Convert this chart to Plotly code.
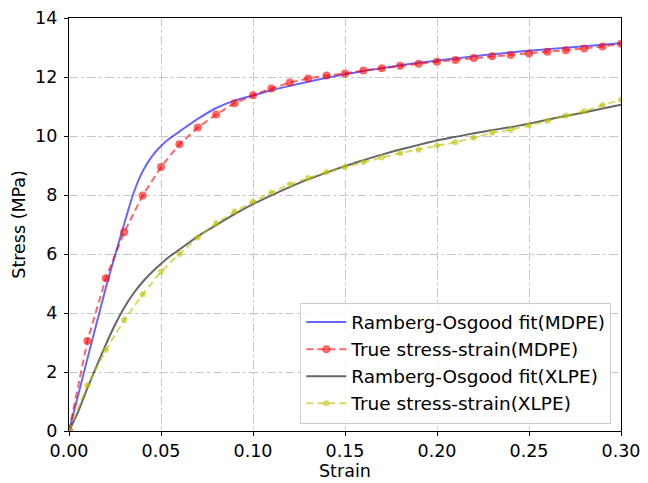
import plotly.graph_objects as go

# Measured points (every 0.01 strain)
strain_pts = [round(i * 0.01, 2) for i in range(31)]
mdpe_true = [0, 3.05, 5.18, 6.74, 7.98, 8.95, 9.72, 10.29, 10.73, 11.11, 11.38,
             11.61, 11.81, 11.95, 12.05, 12.12, 12.22, 12.30, 12.38, 12.45, 12.52,
             12.58, 12.64, 12.70, 12.75, 12.80, 12.86, 12.91, 12.97, 13.03, 13.13]
xlpe_true = [0, 1.55, 2.75, 3.76, 4.63, 5.40, 6.00, 6.56, 7.04, 7.44, 7.77,
             8.08, 8.36, 8.58, 8.78, 8.95, 9.12, 9.27, 9.42, 9.54, 9.68,
             9.79, 9.94, 10.11, 10.21, 10.36, 10.51, 10.69, 10.84, 11.05, 11.23]

# Fit curves
strain_fit = [0, 0.005, 0.01, 0.015, 0.02, 0.025, 0.03, 0.035, 0.04, 0.045, 0.05,
              0.055, 0.06, 0.07, 0.08, 0.09, 0.10, 0.11, 0.12, 0.13, 0.14, 0.15,
              0.16, 0.17, 0.18, 0.19, 0.20, 0.21, 0.22, 0.23, 0.24, 0.25, 0.26,
              0.27, 0.28, 0.29, 0.30]
mdpe_fit = [0, 1.22, 2.45, 3.65, 4.85, 5.95, 7.02, 8.05, 8.8, 9.3, 9.66,
            9.93, 10.15, 10.58, 10.95, 11.2, 11.37, 11.55, 11.7, 11.84, 11.97, 12.09,
            12.2, 12.3, 12.4, 12.48, 12.56, 12.63, 12.7, 12.77, 12.83, 12.89, 12.94,
            12.99, 13.04, 13.09, 13.14]
xlpe_fit = [0, 0.66, 1.45, 2.2, 2.93, 3.6, 4.18, 4.66, 5.05, 5.38, 5.67,
            5.93, 6.15, 6.6, 6.98, 7.35, 7.69, 7.99, 8.27, 8.53, 8.76, 8.98,
            9.18, 9.37, 9.54, 9.7, 9.85, 9.97, 10.09, 10.2, 10.3, 10.42, 10.55,
            10.68, 10.8, 10.93, 11.06]

x_ticks = [0, 0.05, 0.10, 0.15, 0.20, 0.25, 0.30]
y_ticks = [0, 2, 4, 6, 8, 10, 12, 14]

font = "DejaVu Sans"
fs = 17.5
fig = go.Figure()
fig.add_trace(go.Scatter(x=strain_fit, y=mdpe_fit, mode="lines",
                         name="Ramberg-Osgood fit(MDPE)",
                         line=dict(color="rgba(0,0,255,0.6)", width=2, shape="spline", smoothing=0.6)))
fig.add_trace(go.Scatter(x=strain_pts, y=mdpe_true, mode="lines+markers",
                         name="True stress-strain(MDPE)",
                         line=dict(color="rgba(255,0,0,0.6)", width=2, dash="7px,4px"),
                         marker=dict(symbol="circle", size=8, color="rgba(255,0,0,0.6)")))
fig.add_trace(go.Scatter(x=strain_fit, y=xlpe_fit, mode="lines",
                         name="Ramberg-Osgood fit(XLPE)",
                         line=dict(color="rgba(0,0,0,0.6)", width=2, shape="spline", smoothing=0.6)))
fig.add_trace(go.Scatter(x=strain_pts, y=xlpe_true, mode="lines+markers",
                         name="True stress-strain(XLPE)",
                         line=dict(color="rgba(191,191,0,0.6)", width=2, dash="7px,4px"),
                         marker=dict(symbol="pentagon", size=7, color="rgba(191,191,0,0.6)")))

axis_common = dict(showline=True, linecolor="black", linewidth=1.2, mirror=True,
                   ticks="outside", ticklen=4, tickcolor="black",
                   showgrid=True, gridcolor="#c8c8c8", griddash="dashdot", gridwidth=1,
                   zeroline=False, ticklabeloverflow="allow",
                   tickfont=dict(family=font, size=fs, color="black"))

fig.update_layout(
    width=648, height=483,
    margin=dict(l=69, r=17, t=8, b=52),
    paper_bgcolor="white", plot_bgcolor="white",
    font=dict(family=font, size=fs, color="black"),
    xaxis=dict(range=[0, 0.30], tickvals=x_ticks, tickformat=".2f", **axis_common),
    yaxis=dict(range=[0, 14], tickvals=y_ticks, ticklabelstandoff=3, **axis_common),
    legend=dict(x=0.9825, y=0.018, xanchor="right", yanchor="bottom",
                bgcolor="rgba(255,255,255,0.85)", bordercolor="#cccccc", borderwidth=1,
                font=dict(family=font, size=18.5), tracegroupgap=0, itemwidth=40),
    showlegend=True,
    annotations=[
        dict(text="Strain", xref="paper", yref="paper", x=0.5, y=-0.097,
             xanchor="center", yanchor="middle", showarrow=False,
             font=dict(family=font, size=fs, color="black")),
        dict(text="Stress (MPa)", xref="paper", yref="paper", x=-0.092, y=0.5,
             xanchor="center", yanchor="middle", textangle=-90, showarrow=False,
             font=dict(family=font, size=fs, color="black")),
    ],
)

fig.write_html(
    "out.html",
    config={"displayModeBar": False, "responsive": False},
    post_script=(
        "document.documentElement.style.margin='0px';"
        "document.documentElement.style.overflow='hidden';"
        "document.body.style.margin='0px';"
        "document.body.style.overflow='hidden';"
    ),
)
